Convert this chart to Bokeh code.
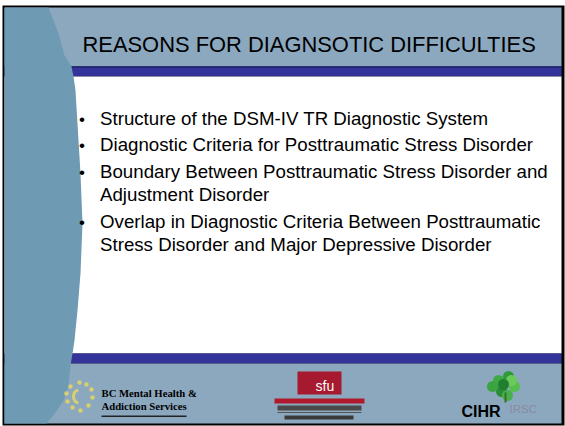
from bokeh.plotting import figure
from bokeh.models import Range1d
from bokeh.core.properties import value
from bokeh.embed import file_html
from bokeh.resources import INLINE

# ---- content ----
title_text = "REASONS FOR DIAGNSOTIC DIFFICULTIES"
bullets = [
    ["Structure of the DSM-IV TR Diagnostic System"],
    ["Diagnostic Criteria for Posttraumatic Stress Disorder"],
    ["Boundary Between Posttraumatic Stress Disorder and", "Adjustment Disorder"],
    ["Overlap in Diagnostic Criteria Between Posttraumatic",
     "Stress Disorder and Major Depressive Disorder"],
]
bullet_mark = "\u2022"
logo_left_lines = ["BC Mental Health &", "Addiction Services"]
logo_mid_text = "sfu"
logo_right_texts = ["CIHR", "IRSC"]

# ---- colours ----
BAND = "#8BA8BF"
SHAPE = "#6E9AB4"
STRIPE = "#333399"

W, H = 565, 426

p = figure(width=W, height=H, output_backend="svg", toolbar_location=None,
           x_range=Range1d(0, W), y_range=Range1d(H, 0),
           min_border=0, min_border_left=0, min_border_right=0,
           min_border_top=0, min_border_bottom=0)
p.axis.visible = False
p.grid.visible = False
p.outline_line_color = None
p.background_fill_color = "white"
p.border_fill_color = "white"

K = 0.38  # baseline correction (fraction of font size)

def txt(xs, ys, texts, size, font="Liberation Sans", **kw):
    p.text(x=xs, y=[v - K * size for v in ys], text=texts, text_font=value(font),
           text_font_size=f"{size}px", text_baseline="alphabetic", **kw)

# frame
p.quad(left=2, right=564, top=5, bottom=425, fill_color="black", line_color=None)
# slide bands
p.quad(left=4, right=561, top=7, bottom=66, fill_color=BAND, line_color=None)
p.quad(left=4, right=561, top=66, bottom=76, fill_color=STRIPE, line_color=None)
p.quad(left=4, right=561, top=76, bottom=353, fill_color="white", line_color=None)
p.quad(left=4, right=561, top=353, bottom=363, fill_color=STRIPE, line_color=None)
p.quad(left=4, right=561, top=363, bottom=423, fill_color=BAND, line_color=None)
p.segment(x0=4, y0=66.5, x1=561, y1=66.5, line_color="#1c1c5a", line_width=1)

# left curved shape
shape_x = [4, 48, 58, 64, 71, 73, 75, 80, 82, 80, 77, 74, 72, 70, 68, 63, 55, 46, 4]
shape_y = [7, 7, 33, 55, 66, 76, 90, 173, 223, 273, 310, 340, 353, 365, 385, 400, 412, 423, 423]
p.patch(shape_x, shape_y, fill_color=SHAPE, line_color=None)

# title
txt([82], [52.7], [title_text], 21.9, text_color="black")

# bullets
tx, ty, bx, by = [], [], [], []
y = 125.0
for item in bullets:
    bx.append(78.5)
    by.append(y)
    for line in item:
        tx.append(99.5)
        ty.append(y)
        y += 23.5
    y += 3.0
txt(tx, ty, [l for it in bullets for l in it], 18.7, text_color="black")
txt(bx, by, [bullet_mark] * len(bx), 17, text_color="black")

# ---- footer logos ----
sun_x = [79, 86, 91, 92, 88, 80, 72, 67, 66, 70]
sun_y = [382, 384, 389, 397, 405, 410, 407, 401, 393, 386]
p.scatter(x=sun_x, y=sun_y, size=4.5, marker="circle", fill_color="#D8CF6E",
          line_color=None)
p.arc(x=[80], y=[396], radius=7, start_angle=1.9, end_angle=4.4,
      line_color="#D8CF6E", line_width=3)
txt([101, 101], [397, 409.5], logo_left_lines, 10.7, font="Liberation Serif",
    text_font_style="bold", text_color="black")
p.quad(left=101, right=186, top=415, bottom=416.5, fill_color="#222222", line_color=None)

p.quad(left=297, right=341, top=371, bottom=394, fill_color="#A6192E", line_color=None)
txt([315], [391], [logo_mid_text], 14, text_color="white")
p.quad(left=274, right=364, top=398, bottom=403, fill_color="#B0182C", line_color=None)
p.quad(left=277, right=361, top=405, bottom=410, fill_color="#4a4a4a", line_color=None)
p.quad(left=277, right=361, top=411.5, bottom=412.5, fill_color="#555555", line_color=None)
p.quad(left=284, right=353, top=415, bottom=419, fill_color="#3a3a3a", line_color=None)

leaf_x = [498, 508, 514, 501, 507, 492, 511, 503]
leaf_y = [380, 376, 386, 391, 395, 386, 380, 384]
leaf_c = ["#3FA944", "#2E9A3A", "#56BE4E", "#2A8C36", "#47B04A", "#3BA440", "#6ACB5A", "#1F7F2E"]
p.scatter(x=leaf_x, y=leaf_y, size=11, marker="circle", fill_color=leaf_c, line_color=None)
p.quad(left=504, right=506, top=392, bottom=402, fill_color="#3B6E2A", line_color=None)
txt([461], [417], [logo_right_texts[0]], 16, text_font_style="bold", text_color="black")
txt([509], [412.5], [logo_right_texts[1]], 11.5, text_color="#8A8AA0")

open("out.html", "w").write(file_html(p, INLINE))
